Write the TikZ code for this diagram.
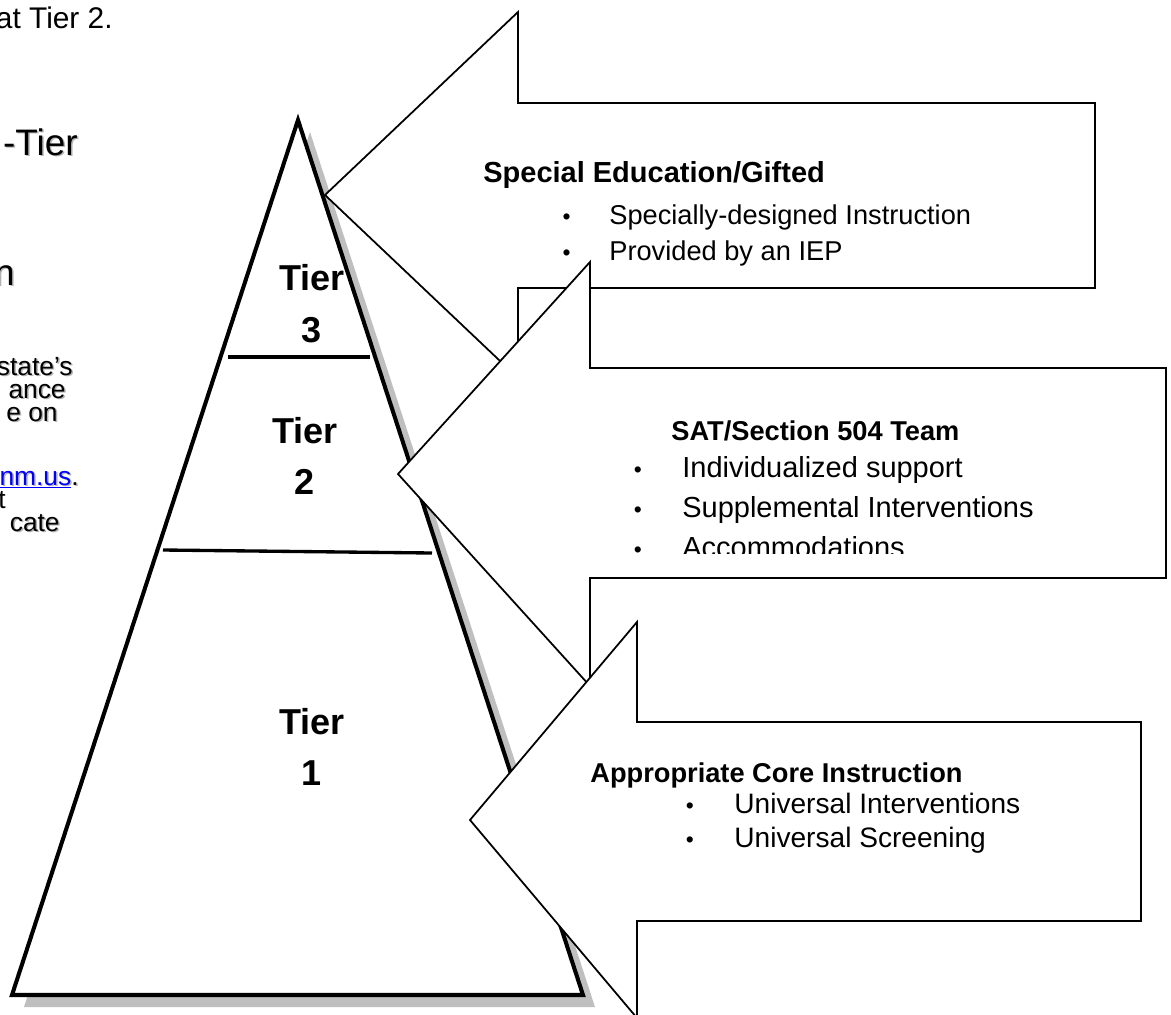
\documentclass[tikz,border=0pt]{standalone}
\usepackage{fontspec}
\setmainfont{Liberation Sans}
\usetikzlibrary{positioning}

\newcommand{\bul}[1]{\llap{{\fontsize{13}{13}\selectfont •}\hspace{#1}}}

\begin{document}
\begin{tikzpicture} [x=0.02cm, y=-0.02cm, line join=miter,
  pyramid/.style={draw, fill=white, line width=2.3pt},
  divider/.style={line width=1.9pt},
  callout/.style={draw, fill=white, line width=1pt},
  tier/.style={align=center, font=\fontsize{20.5}{29.5}\selectfont\bfseries},
  heading/.style={anchor=base west, inner sep=0pt, font=\fontsize{15.5}{19}\selectfont\bfseries},
  item/.style={anchor=base west, inner sep=0pt, font=\fontsize{16}{19}\selectfont},
  lefttext/.style={anchor=base east, inner sep=0pt, font=\fontsize{15}{16}\selectfont},
  bigtext/.style={anchor=base east, inner sep=0pt, font=\fontsize{21}{26}\selectfont},
  behind/.style={text=black!30}]
\useasboundingbox (0,0) rectangle (1171,1015);
\clip (0,0) rectangle (1171,1015);

% text of the page behind
\node[anchor=base east, inner sep=0pt, font=\fontsize{17}{20}\selectfont] (pagetop) at (113,28) {at Tier 2.};
\node[bigtext, behind] at (79.5,156.5) {-Tier};
\node[bigtext] (bigtier) at (78,155) {-Tier};
\node[bigtext, behind] at (16.5,286.5) {n};
\node[bigtext] (bign) at (15,285) {n};
\node[lefttext, behind] at (74.5,376.5) {state’s};
\node[lefttext] (line1) at (73,375) {state’s};
\node[lefttext, behind] at (67.5,399.5) {ance};
\node[lefttext] (line2) at (66,398) {ance};
\node[lefttext, behind] at (59.5,422.5) {e on};
\node[lefttext] (line3) at (58,421) {e on};
\node[lefttext, behind] at (80.5,486.5) {nm.us.};
\node[lefttext] (line4) at (79,485) {\textcolor{blue}{\underline{nm.us}}.};
\node[lefttext] (line5) at (6,508) {t};
\node[lefttext, behind] at (61.5,532.5) {cate};
\node[lefttext] (line6) at (60,531) {cate};

% pyramid with its shadow
\coordinate (apex) at (298,120);
\coordinate (baseL) at (12,995);
\coordinate (baseR) at (583,995);
\fill[black!25] (310,132) -- (24,1007) -- (595,1007) -- cycle;
\draw[pyramid] (apex) -- (baseL) -- (baseR) -- cycle;
\draw[divider] (228,357) -- (370,357);
\draw[divider] (163,550) -- (432,553);
\node[tier] (tier3) at (312,304) {Tier\\3};
\node[tier] (tier2) at (305,456) {Tier\\2};
\node[tier] (tier1) at (312,747) {Tier\\1};

% callouts
\coordinate (tipA) at (325,195);
\coordinate (tipB) at (398,474);
\coordinate (tipC) at (470,820);
\draw[callout] (tipA) -- (518,12) -- (518,103) -- (1095,103) -- (1095,288) -- (518,288) -- (518,378) -- cycle;
\draw[callout] (tipB) -- (590,262) -- (590,368) -- (1166,368) -- (1166,578) -- (590,578) -- (590,686) -- cycle;
\draw[callout] (tipC) -- (637,622) -- (637,722) -- (1141,722) -- (1141,921) -- (637,921) -- (637,1018) -- cycle;

% texts in the callouts
\node[heading, font=\fontsize{16.5}{19}\selectfont\bfseries] (spedhead) at (483,182) {Special Education/Gifted};
\node[item, font=\fontsize{15.5}{19}\selectfont] (sped1) at (609,224) {\bul{22pt}Specially-designed Instruction};
\node[item, font=\fontsize{15.5}{19}\selectfont] (sped2) at (609,260) {\bul{22pt}Provided by an IEP};

\node[heading] (sathead) at (671,440) {SAT/Section 504 Team};
\node[item, font=\fontsize{16.5}{19}\selectfont] (sat1) at (682,477) {\bul{23pt}Individualized support};
\node[item, font=\fontsize{16.5}{19}\selectfont] (sat2) at (682,517) {\bul{23pt}Supplemental Interventions};
\begin{scope}
  \clip (590,368) rectangle (1166,553);
  \node[item, font=\fontsize{16.5}{19}\selectfont] (sat3) at (682,557) {\bul{23pt}Accommodations};
\end{scope}

\node[heading] (corehead) at (590,782) {Appropriate Core Instruction};
\node[item] (core1) at (734,813) {\bul{23pt}Universal Interventions};
\node[item] (core2) at (734,847) {\bul{23pt}Universal Screening};
\end{tikzpicture}
\end{document}
